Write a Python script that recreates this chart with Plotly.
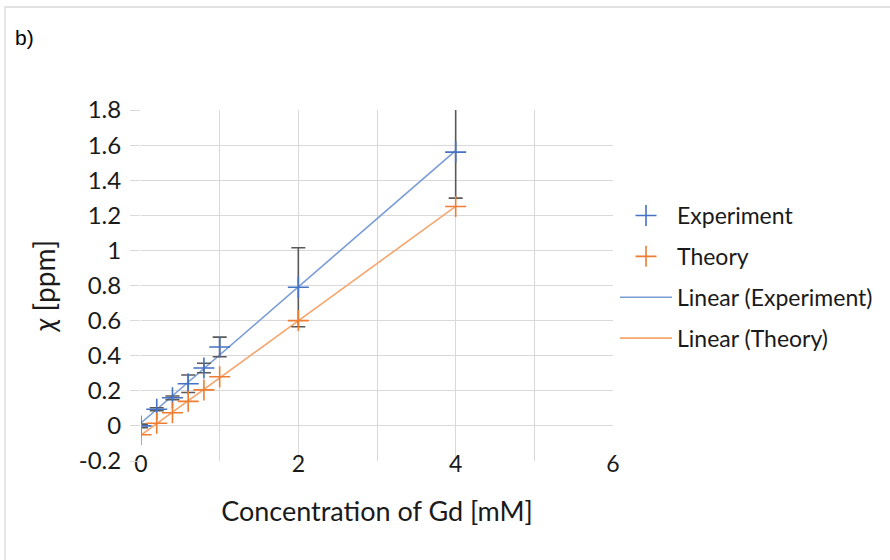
import numpy as np
import plotly.graph_objects as go

# ---- data ----
conc = [0, 0.2, 0.4, 0.6, 0.8, 1.0, 2.0, 4.0]
experiment = [0.0, 0.095, 0.16, 0.24, 0.33, 0.45, 0.79, 1.56]
experiment_err = [0.01, 0.008, 0.01, 0.05, 0.027, 0.056, 0.225, 0.262]
theory = [-0.05, 0.015, 0.075, 0.14, 0.205, 0.28, 0.60, 1.25]

y_ticks = [-0.2, 0, 0.2, 0.4, 0.6, 0.8, 1.0, 1.2, 1.4, 1.6, 1.8]
y_labels = ["-0.2", "0", "0.2", "0.4", "0.6", "0.8", "1", "1.2", "1.4", "1.6", "1.8"]
x_ticks = [0, 1, 2, 3, 4, 5, 6]
x_labels = ["0", "", "2", "", "4", "", "6"]

BLUE = "#4472C4"
ORANGE = "#ED7D31"
FONT = "Lato"
TXT = "#1a1a1a"

# linear trendlines (least squares fit of each series)
xs = np.array(conc)
pe = np.polyfit(xs, np.array(experiment), 1)
pt = np.polyfit(xs, np.array(theory), 1)
x_fit = [min(conc), max(conc)]

fig = go.Figure()
fig.add_trace(go.Scatter(
    x=x_fit, y=list(np.polyval(pe, x_fit)), mode="lines", name="Linear (Experiment)",
    line=dict(color="#7A9CD6", width=1.6), legendrank=3, legendgroup="c",
))
fig.add_trace(go.Scatter(
    x=x_fit, y=list(np.polyval(pt, x_fit)), mode="lines", name="Linear (Theory)",
    line=dict(color="#F5A66E", width=1.6), legendrank=4, legendgroup="d",
))
fig.add_trace(go.Scatter(
    x=conc, y=experiment, mode="markers", name="Experiment",
    marker=dict(symbol="cross-thin", size=15, line=dict(color=BLUE, width=1.6)),
    error_y=dict(type="data", array=experiment_err, visible=True,
                 color="#595959", thickness=1.6, width=7),
    legendrank=1, legendgroup="a",
))
fig.add_trace(go.Scatter(
    x=conc, y=theory, mode="markers", name="Theory",
    marker=dict(symbol="cross-thin", size=15, line=dict(color=ORANGE, width=1.6)),
    legendrank=2, legendgroup="b",
))

L, R, T, B = 141, 277, 110, 99
W, H = 890, 560
pw, ph = W - L - R, H - T - B

fig.update_layout(
    width=W, height=H,
    margin=dict(l=L, r=R, t=T, b=B, autoexpand=False),
    paper_bgcolor="white", plot_bgcolor="white",
    font=dict(family=FONT, size=20, color=TXT),
    showlegend=True,
    legend=dict(
        x=(615 - L) / pw, y=(H - B - 194) / ph, xanchor="left", yanchor="top",
        font=dict(family=FONT, size=23, color=TXT),
        itemwidth=52, tracegroupgap=8, bgcolor="rgba(0,0,0,0)",
        traceorder="grouped",
    ),
    xaxis=dict(
        range=[0, 6], tickvals=x_ticks, ticktext=x_labels,
        showgrid=True, gridcolor="#D9D9D9", gridwidth=1.3,
        zeroline=False, showline=False, ticks="",
        tickfont=dict(family=FONT, size=23, color=TXT),
        ticklabelstandoff=-13,
        title=dict(text="Concentration of Gd [mM]", standoff=26,
                   font=dict(family=FONT, size=27, color=TXT)),
    ),
    yaxis=dict(
        range=[-0.2, 1.8], tickvals=y_ticks, ticktext=y_labels,
        showgrid=True, gridcolor="#D9D9D9", gridwidth=1.3,
        zeroline=False, showline=False,
        ticks="outside", ticklen=10, tickcolor="#D9D9D9", tickwidth=1.3,
        tickfont=dict(family=FONT, size=24, color=TXT),
        ticklabelstandoff=4,
        title=dict(text="<i>χ</i> [ppm]", standoff=14,
                   font=dict(family=FONT, size=28, color=TXT)),
    ),
)

# outer chart frame (light gray)
fig.add_shape(type="rect", xref="paper", yref="paper",
              x0=(5 - L) / pw, x1=(W + 20 - L) / pw,
              y0=(H - B - (H + 20)) / ph, y1=(H - B - 7) / ph,
              line=dict(color="#D9D9D9", width=1.3), fillcolor="rgba(0,0,0,0)")

fig.add_annotation(text="b)", xref="paper", yref="paper",
                   x=(13 - L) / pw, y=(H - B - 37) / ph,
                   xanchor="left", yanchor="middle", showarrow=False,
                   font=dict(family="Liberation Sans", size=21, color="#000000"))

fig.write_html("out.html")
